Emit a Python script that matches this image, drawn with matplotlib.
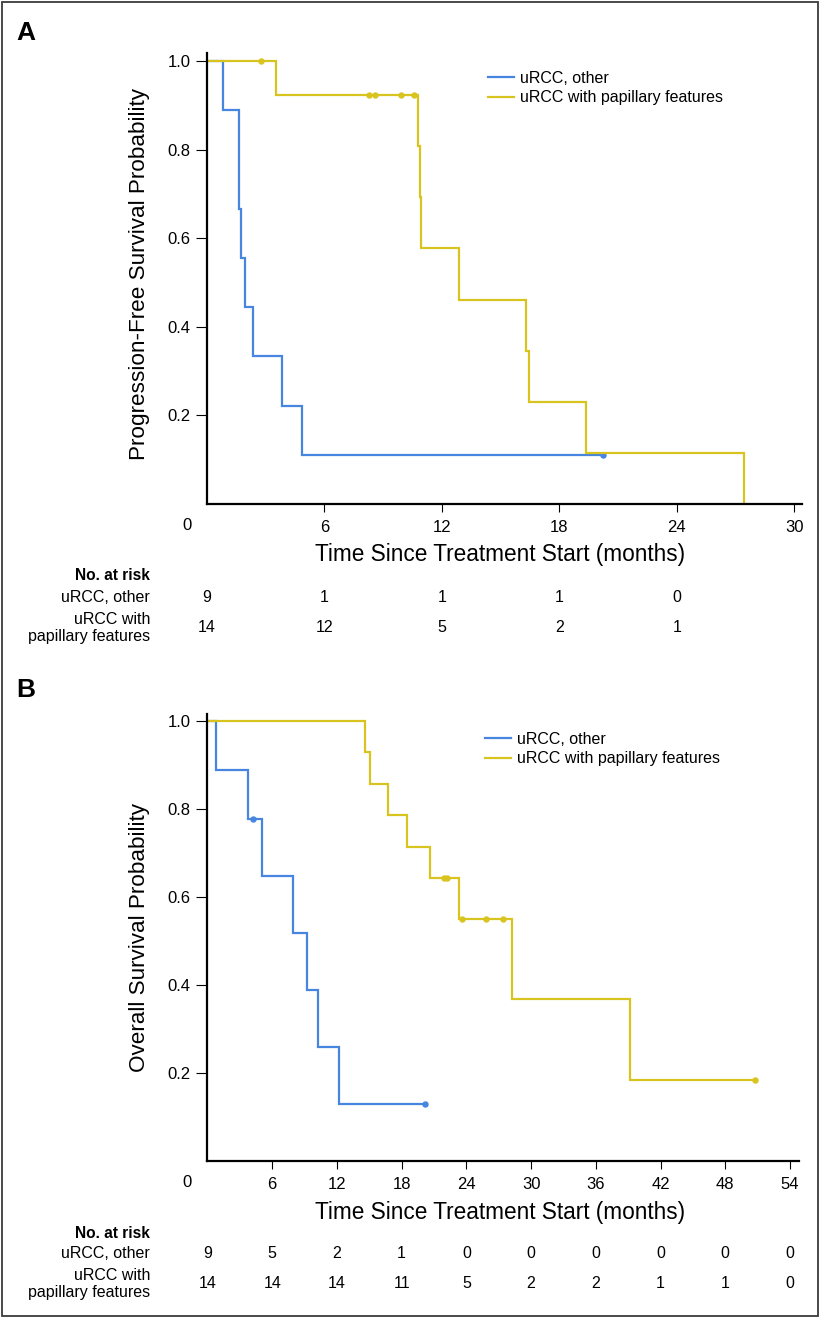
import matplotlib
matplotlib.use("Agg")
import matplotlib.pyplot as plt
import matplotlib.transforms as mtransforms
from matplotlib.patches import Rectangle
import numpy as np

# ---------------- data ----------------
groups = ["uRCC, other", "uRCC with papillary features"]
risk_row_labels = ["uRCC, other", "uRCC with\npapillary features"]

# Panel A: progression-free survival (months, 1 = event, 0 = censored)
pfs_other_times = [0.83, 1.66, 1.66, 1.72, 1.95, 2.36, 3.81, 4.85, 20.23]
pfs_other_events = [1, 1, 1, 1, 1, 1, 1, 1, 0]
pfs_pap_times = [2.75, 3.50, 8.28, 8.57, 9.92, 10.56, 10.80, 10.87, 10.95,
                 12.90, 16.30, 16.45, 19.35, 27.42]
pfs_pap_events = [0, 1, 0, 0, 0, 0, 1, 1, 1, 1, 1, 1, 1, 1]
pfs_xticks = [6, 12, 18, 24, 30]
pfs_risk_times = [0, 6, 12, 18, 24]
pfs_risk_other = [9, 1, 1, 1, 0]
pfs_risk_pap = [14, 12, 5, 2, 1]

# Panel B: overall survival
os_other_times = [0.77, 3.77, 4.26, 5.09, 7.93, 9.23, 10.20, 12.16, 20.20]
os_other_events = [1, 1, 0, 1, 1, 1, 1, 1, 0]
os_pap_times = [14.63, 15.06, 16.70, 18.50, 20.65, 21.90, 22.25, 23.30, 23.60,
                25.80, 27.40, 28.20, 39.20, 50.80]
os_pap_events = [1, 1, 1, 1, 1, 0, 0, 1, 0, 0, 0, 1, 1, 0]
os_xticks = [6, 12, 18, 24, 30, 36, 42, 48, 54]
os_risk_times = [0, 6, 12, 18, 24, 30, 36, 42, 48, 54]
os_risk_other = [9, 5, 2, 1, 0, 0, 0, 0, 0, 0]
os_risk_pap = [14, 14, 14, 11, 5, 2, 2, 1, 1, 0]

yticks = [0.2, 0.4, 0.6, 0.8, 1.0]

# ---------------- style ----------------
BLUE = "#4786e0"
YELLOW = "#d9c41f"
FN = "Liberation Sans"
W, H = 820, 1318

plt.rcParams["font.family"] = [FN, "DejaVu Sans"]
fig = plt.figure(figsize=(W / 100, H / 100), dpi=100)


def fx(x):
    return x / W


def fy(y):
    return 1 - y / H


def km(times, events):
    order = np.argsort(times, kind="stable")
    t = np.asarray(times, float)[order]
    e = np.asarray(events, int)[order]
    n = len(t)
    s = 1.0
    xs, ys = [0.0], [1.0]
    cx, cy = [], []
    i = 0
    while i < n:
        j = i
        while j < n and t[j] == t[i]:
            j += 1
        d = e[i:j].sum()
        at_risk = n - i
        if d > 0:
            s *= (1 - d / at_risk)
            xs.append(t[i]); ys.append(s)
        c = (j - i) - d
        if c > 0:
            cx.append(t[i]); cy.append(s)
        i = j
    xs.append(t[-1]); ys.append(s)
    return xs, ys, cx, cy


def panel(px_left, px_right, px_top, px_bottom, xmax, ymax, xticks,
          ylab, data, risk_times, risk_vals, risk_ys, ylab_y, xlab_y,
          leg_xy, letter, letter_y):
    ax = fig.add_axes([fx(px_left), fy(px_bottom), fx(px_right) - fx(px_left),
                       fy(px_top) - fy(px_bottom)])
    lines = []
    for (times, events, col, lab) in data:
        xs, ys, cx, cy = km(times, events)
        ln, = ax.step(xs, ys, where="post", color=col, lw=1.6, label=lab,
                      solid_joinstyle="miter")
        ax.plot(cx, cy, "o", color=col, ms=3.6, mec=col)
        lines.append(ln)
    ax.set_xlim(0, xmax)
    ax.set_ylim(0, ymax)
    for s in ["top", "right"]:
        ax.spines[s].set_visible(False)
    for s in ["left", "bottom"]:
        ax.spines[s].set_linewidth(1.6)
    ax.set_yticks(yticks)
    ax.set_yticklabels([f"{v:.1f}" for v in yticks], fontsize=12, family=FN)
    ax.set_xticks(xticks)
    ax.set_xticklabels([str(v) for v in xticks], fontsize=12, family=FN)
    ax.tick_params(axis="y", length=8, width=0.8, pad=4)
    ax.tick_params(axis="x", length=6, width=0.8, pad=5.5)
    # "0" label offset to the left of the axis
    ax.annotate("0", xy=(0, 0), xycoords="data", xytext=(-14.5, -9.8),
                textcoords="offset points", ha="center", va="top",
                fontsize=12, family=FN, annotation_clip=False)
    fig.text(fx(139), fy(ylab_y), ylab, rotation=90, ha="center", va="center",
             fontsize=16.2, family=FN)
    fig.text(fx(500), fy(xlab_y),
             "Time Since Treatment Start (months)", ha="center", va="center",
             fontsize=16.3, family=FN)
    ax.legend(handles=lines, loc="upper left",
              bbox_to_anchor=(fx(leg_xy[0]), fy(leg_xy[1])),
              bbox_transform=fig.transFigure, frameon=False,
              prop={"family": FN, "size": 11.5}, handlelength=1.6,
              handletextpad=0.4, labelspacing=0.28, borderpad=0,
              borderaxespad=0)
    # risk table
    bt = mtransforms.blended_transform_factory(ax.transData, fig.transFigure)
    fig.text(fx(150), fy(risk_ys[0]), "No. at risk", ha="right", va="center",
             fontsize=11.2, family=FN, weight="bold")
    fig.text(fx(150), fy(risk_ys[1]), risk_row_labels[0], ha="right", va="center",
             fontsize=11.5, family=FN)
    fig.text(fx(150), fy(risk_ys[2]), risk_row_labels[1], ha="right", va="center",
             fontsize=11.5, family=FN, multialignment="right",
             linespacing=1.12)
    for row, yy in zip(risk_vals, risk_ys[1:]):
        for t, v in zip(risk_times, row):
            ax.text(t, fy(yy), str(v), transform=bt, ha="center", va="center",
                    fontsize=11.5, family=FN)
    fig.text(fx(26), fy(letter_y), letter, ha="center", va="center",
             fontsize=19, weight="bold", family=FN)
    return ax


panel(207, 802, 53, 504, 30.4, 1.018, pfs_xticks,
      "Progression-Free Survival Probability",
      [(pfs_other_times, pfs_other_events, BLUE, groups[0]),
       (pfs_pap_times, pfs_pap_events, YELLOW, groups[1])],
      pfs_risk_times, [pfs_risk_other, pfs_risk_pap],
      [576, 598, 628], 274, 555, (488, 71), "A", 33)

panel(207.5, 798.6, 714, 1161, 54.8, 1.016, os_xticks,
      "Overall Survival Probability",
      [(os_other_times, os_other_events, BLUE, groups[0]),
       (os_pap_times, os_pap_events, YELLOW, groups[1])],
      os_risk_times, [os_risk_other, os_risk_pap],
      [1233, 1254, 1284], 938, 1213, (485, 732), "B", 690)

fig.patches.append(Rectangle((fx(2), fy(1316)), fx(816), 1314 / H,
                             transform=fig.transFigure, fill=False,
                             edgecolor="#3a3a3a", lw=1.3))

fig.savefig("out.png", dpi=100)
